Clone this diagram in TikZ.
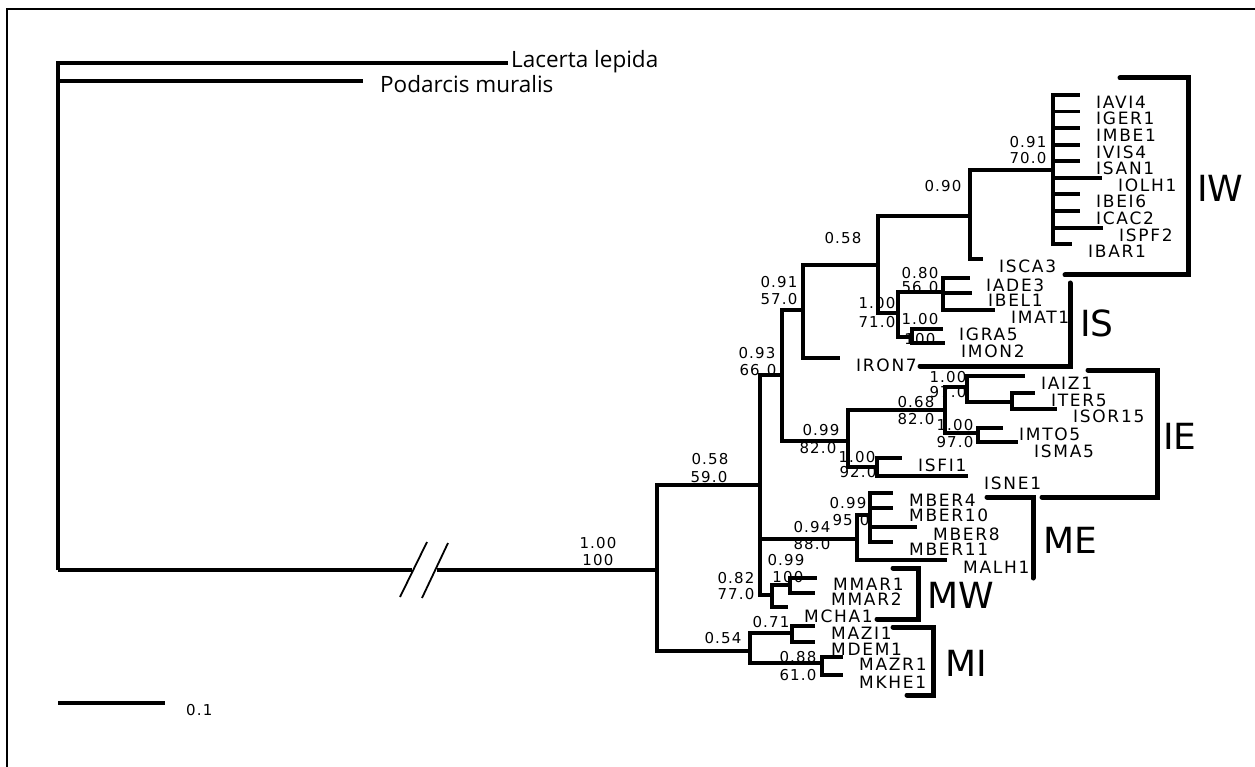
\documentclass[tikz,border=0pt]{standalone}
\usepackage{fontspec}
\newfontfamily\labfont[LetterSpace=10]{DejaVu Sans}
\newfontfamily\suppfont[LetterSpace=8]{DejaVu Sans}
\newfontfamily\cladefont{DejaVu Sans}
\newfontfamily\ogfont{Open Sans}
\newcommand\tipnode[5][7]{\coordinate (#2) at (#3,#4);\node[tip] (L#2) at ([shift={(16,#1)}]#2) {#5};}
\tikzset{
  tree/.style={line width=3.2pt, line cap=butt, line join=miter},
  bracket/.style={line width=5pt, line cap=round, line join=miter},
  tip/.style={anchor=west, inner sep=0pt, font=\labfont\fontsize{17}{18}\selectfont},
  sup/.style={inner sep=0pt, font=\suppfont\fontsize{15}{16}\selectfont},
  clade/.style={anchor=west, inner sep=0pt, font=\cladefont\fontsize{36}{40}\selectfont},
  og/.style={anchor=base west, inner sep=0pt, font=\ogfont\fontsize{22.5}{24}\selectfont}
}
\begin{document}
\begin{tikzpicture}[x=1pt,y=-1pt]
\useasboundingbox (0,0) rectangle (1255,767);
\fill[white] (0,0) rectangle (1255,767);
% frame
\draw[line width=2pt] (1256,9) -- (7,9) -- (7,768);

% ---------- internal nodes ----------
\coordinate (r) at (58,570);
\coordinate (lac) at (508,63);
\coordinate (pod) at (363,81);
\coordinate (bl) at (412,570);
\coordinate (bri) at (437,570);
\coordinate (n1) at (657,570);
\coordinate (a) at (760,485);
\coordinate (mi) at (750,651);
\coordinate (b) at (782,375);
\coordinate (me) at (857,539);
\coordinate (mw) at (772,595);
\coordinate (c) at (803,310);
\coordinate (ie) at (848,441);
\coordinate (d) at (878,265);
\coordinate (e) at (970,216);
\coordinate (is1) at (898,313);
\coordinate (iw) at (1053,170);
\coordinate (f) at (943,292);
\coordinate (g) at (912,337);
\coordinate (h) at (945,410);
\coordinate (k) at (877,467);
\coordinate (h1) at (967,387);
\coordinate (h2) at (978,433);
\coordinate (h3) at (1012,402);
\coordinate (m1) at (870,515);
\coordinate (w1) at (790,585);
\coordinate (i1) at (792,633);
\coordinate (i2) at (822,663);

% ---------- tips ----------
\tipnode{IAVI4}{1080}{95}{IAVI4}
\tipnode{IGER1}{1080}{111.5}{IGER1}
\tipnode{IMBE1}{1080}{128}{IMBE1}
\tipnode{IVIS4}{1080}{145}{IVIS4}
\tipnode{ISAN1}{1080}{161}{ISAN1}
\tipnode{IOLH1}{1102}{178}{IOLH1}
\tipnode{IBEI6}{1080}{194}{IBEI6}
\tipnode{ICAC2}{1080}{211}{ICAC2}
\tipnode{ISPF2}{1103}{228}{ISPF2}
\tipnode{IBAR1}{1072}{244}{IBAR1}
\tipnode{ISCA3}{983}{259}{ISCA3}
\tipnode{IADE3}{970}{278}{IADE3}
\tipnode{IBEL1}{972}{293}{IBEL1}
\tipnode{IMAT1}{995}{310}{IMAT1}
\tipnode[5]{IGRA5}{943}{329}{IGRA5}
\tipnode[8]{IMON2}{945}{343}{IMON2}
\tipnode{IRON7}{840}{358}{IRON7}
\tipnode{IAIZ1}{1025}{376}{IAIZ1}
\tipnode{ITER5}{1035}{393}{ITER5}
\tipnode{ISOR15}{1057}{409}{ISOR15}
\tipnode[6]{IMTO5}{1003}{428}{IMTO5}
\tipnode[9]{ISMA5}{1018}{442}{ISMA5}
\tipnode{ISFI1}{902}{458}{ISFI1}
\tipnode{ISNE1}{968}{476}{ISNE1}
\tipnode{MBER4}{893}{493}{MBER4}
\tipnode{MBER10}{893}{508}{MBER10}
\tipnode{MBER8}{917}{527}{MBER8}
\tipnode{MBER11}{893}{542}{MBER11}
\tipnode{MALH1}{947}{560}{MALH1}
\tipnode[6]{MMAR1}{817}{578}{MMAR1}
\tipnode[6]{MMAR2}{815}{593}{MMAR2}
\tipnode[9]{MCHA1}{788}{607}{MCHA1}
\tipnode{MAZI1}{815}{626}{MAZI1}
\tipnode{MDEM1}{815}{642}{MDEM1}
\tipnode{MAZR1}{843}{657}{MAZR1}
\tipnode{MKHE1}{843}{675}{MKHE1}

% ---------- outgroups ----------
\node[og] (Llac) at ([shift={(3,5)}]lac) {Lacerta lepida};
\node[og] (Lpod) at ([shift={(17,12)}]pod) {Podarcis muralis};

% ---------- branches ----------
\draw[tree] (r) |- (lac);
\draw[tree] (r) |- (pod);
\draw[tree] (r) -- (bl);
\draw[tree] (bri) -- (n1);
\draw[line width=1.8pt] (400,597) -- (427,542);
\draw[line width=1.8pt] (422,598) -- (448,543);
\draw[tree] (n1) |- (a);
\draw[tree] (n1) |- (mi);
\foreach \q in {b,me,mw} \draw[tree] (a) |- (\q);
\foreach \q in {c,ie} \draw[tree] (b) |- (\q);
\foreach \q in {d,IRON7} \draw[tree] (c) |- (\q);
\foreach \q in {e,is1} \draw[tree] (d) |- (\q);
\foreach \q in {iw,ISCA3} \draw[tree] (e) |- (\q);
\foreach \q in {IAVI4,IGER1,IMBE1,IVIS4,ISAN1,IOLH1,IBEI6,ICAC2,ISPF2,IBAR1} \draw[tree] (iw) |- (\q);
\foreach \q in {f,g} \draw[tree] (is1) |- (\q);
\foreach \q in {IADE3,IBEL1,IMAT1} \draw[tree] (f) |- (\q);
\foreach \q in {IGRA5,IMON2} \draw[tree] (g) |- (\q);
\foreach \q in {h,k} \draw[tree] (ie) |- (\q);
\foreach \q in {h1,h2} \draw[tree] (h) |- (\q);
\foreach \q in {IAIZ1,h3} \draw[tree] (h1) |- (\q);
\foreach \q in {ITER5,ISOR15} \draw[tree] (h3) |- (\q);
\foreach \q in {IMTO5,ISMA5} \draw[tree] (h2) |- (\q);
\foreach \q in {ISFI1,ISNE1} \draw[tree] (k) |- (\q);
\foreach \q in {m1,MALH1} \draw[tree] (me) |- (\q);
\foreach \q in {MBER4,MBER10,MBER8,MBER11} \draw[tree] (m1) |- (\q);
\foreach \q in {w1,MCHA1} \draw[tree] (mw) |- (\q);
\foreach \q in {MMAR1,MMAR2} \draw[tree] (w1) |- (\q);
\foreach \q in {i1,i2} \draw[tree] (mi) |- (\q);
\foreach \q in {MAZI1,MDEM1} \draw[tree] (i1) |- (\q);
\foreach \q in {MAZR1,MKHE1} \draw[tree] (i2) |- (\q);

% ---------- support values ----------
\node[sup] (s1a) at (598,543) {1.00};
\node[sup] (s1b) at (598,560) {100};
\node[sup] (s2a) at (710,459) {0.58};
\node[sup] (s2b) at (709,477) {59.0};
\node[sup] (s3a) at (757,353) {0.93};
\node[sup] (s3b) at (758,370) {66.0};
\node[sup] (s4a) at (779,282) {0.91};
\node[sup] (s4b) at (779,299) {57.0};
\node[sup] (s5a) at (843,238) {0.58};
\node[sup] (s6a) at (943,186) {0.90};
\node[sup] (s7a) at (1028,142) {0.91};
\node[sup] (s7b) at (1028,158) {70.0};
\node[sup] (s8a) at (920,273) {0.80};
\node[sup] (s8b) at (920,287) {56.0};
\node[sup] (s9a) at (877,303) {1.00};
\node[sup] (s9b) at (877,322) {71.0};
\node[sup] (s10a) at (920,319) {1.00};
\node[sup] (s10b) at (920,339) {100};
\node[sup] (s11a) at (821,430) {0.99};
\node[sup] (s11b) at (818,448) {82.0};
\node[sup] (s12a) at (916,402) {0.68};
\node[sup] (s12b) at (916,419) {82.0};
\node[sup] (s13a) at (948,377) {1.00};
\node[sup] (s13b) at (948,392) {97.0};
\node[sup] (s14a) at (955,425) {1.00};
\node[sup] (s14b) at (955,442) {97.0};
\node[sup] (s15a) at (857,457) {1.00};
\node[sup] (s15b) at (858,472) {92.0};
\node[sup] (s16a) at (812,527) {0.94};
\node[sup] (s16b) at (812,544) {88.0};
\node[sup] (s17a) at (848,503) {0.99};
\node[sup] (s17b) at (851,520) {95.0};
\node[sup] (s18a) at (786,560) {0.99};
\node[sup] (s18b) at (788,577) {100};
\node[sup] (s19a) at (736,578) {0.82};
\node[sup] (s19b) at (736,594) {77.0};
\node[sup] (s20a) at (723,638) {0.54};
\node[sup] (s21a) at (771,622) {0.71};
\node[sup] (s22a) at (798,657) {0.88};
\node[sup] (s22b) at (798,675) {61.0};

% ---------- clade brackets ----------
\draw[bracket] (1120,78) -- (1188,78) -- (1188,275) -- (1065,275);
\draw[bracket] (1070,283) -- (1070,366) -- (920,366);
\draw[bracket] (1088,370) -- (1157,370) -- (1157,497) -- (1042,497);
\draw[bracket] (987,497) -- (1033,497) -- (1033,578);
\draw[bracket] (893,568) -- (918,568) -- (918,619) -- (877,619);
\draw[bracket] (893,627) -- (933,627) -- (933,695) -- (907,695);
\node[clade] (cIW) at (1197,188) {IW};
\node[clade] (cIS) at (1080,323) {IS};
\node[clade] (cIE) at (1163,436) {IE};
\node[clade] (cME) at (1043,540) {ME};
\node[clade] (cMW) at (927,595) {MW};
\node[clade] (cMI) at (945,663) {MI};

% ---------- scale bar ----------
\coordinate (sb1) at (58,703);
\coordinate (sb2) at (165,703);
\draw[tree] (sb1) -- (sb2);
\node[sup, anchor=west] (sbl) at (186,710) {0.1};
\end{tikzpicture}
\end{document}
